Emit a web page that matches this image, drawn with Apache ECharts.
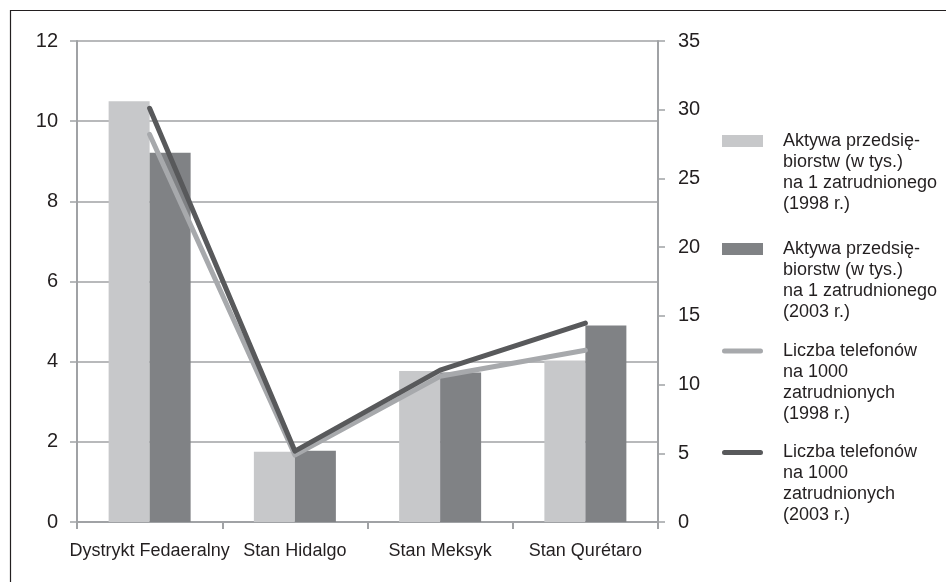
<!DOCTYPE html>
<html>
<head>
<meta charset="utf-8">
<script src="https://cdn.jsdelivr.net/npm/echarts@6/dist/echarts.min.js"></script>
<style>
  html, body { margin: 0; padding: 0; background: #ffffff; }
  #chart { width: 946px; height: 582px; }
</style>
</head>
<body>
<div id="chart"></div>
<script>
// Regions
const categories = ['Dystrykt Fedaeralny', 'Stan Hidalgo', 'Stan Meksyk', 'Stan Qurétaro'];

// Enterprise assets (thousands) per employee — left axis
const assets1998 = [10.5, 1.75, 3.77, 4.03];
const assets2003 = [9.21, 1.78, 3.73, 4.9];

// Telephones per 1000 employees — right axis
const phones1998 = [28.2, 4.87, 10.6, 12.5];
const phones2003 = [30.1, 5.16, 11.05, 14.48];

// Axis ticks
const leftTicks = { min: 0, max: 12, step: 2 };
const rightTicks = { min: 0, max: 35, step: 5 };

const seriesNames = [
  'Aktywa przedsię-\nbiorstw (w tys.)\nna 1 zatrudnionego\n(1998 r.)',
  'Aktywa przedsię-\nbiorstw (w tys.)\nna 1 zatrudnionego\n(2003 r.)',
  'Liczba telefonów\nna 1000\nzatrudnionych\n(1998 r.)',
  'Liczba telefonów\nna 1000\nzatrudnionych\n(2003 r.)'
];

const COL_BAR_LIGHT = '#c7c8ca';
const COL_BAR_DARK = '#808285';
const COL_LINE_LIGHT = '#a7a9ac';
const COL_LINE_DARK = '#58595b';
const AXIS_GRAY = '#a0a2a5';
const TEXT = '#231f20';
const FONT = '"Liberation Sans", Arial, sans-serif';

const LEGEND_FONT = 18;
const LINE_H = 21;
const SWATCH_W = 41;

// Swatch path whose box is stretched downward by a zero-area point, so that the
// middle-aligned text block puts its first line beside the visible swatch.
function swatchIcon(shapePath, shapeH, lines) {
  const blockH = lines * LINE_H;
  const boxH = shapeH / 2 - LINE_H / 2 + blockH / 2;
  return { icon: 'path://' + shapePath + ' M0,' + (2 * boxH) + ' L0,' + (2 * boxH) + ' Z', boxH: 2 * boxH };
}

const RECT_PATH = 'M0,0 L41,0 L41,12 L0,12 Z';
const PILL_PATH = 'M2.5,0 L38.5,0 A2.5,2.5 0 0 1 38.5,5 L2.5,5 A2.5,2.5 0 0 1 2.5,0 Z';

// One legend block per series; swatchCenter is the vertical centre of the swatch
function legendBlock(name, swatchCenter, shapePath, shapeH) {
  const lines = name.split('\n').length;
  const sw = swatchIcon(shapePath, shapeH, lines);
  const textTop = shapeH / 2 - LINE_H / 2;
  return {
    data: [name],
    left: 722,
    top: swatchCenter - shapeH / 2 + Math.min(0, textTop),
    orient: 'vertical',
    padding: 0,
    selectedMode: false,
    icon: sw.icon,
    itemWidth: SWATCH_W,
    itemHeight: sw.boxH,
    textStyle: {
      color: TEXT,
      fontFamily: FONT,
      fontSize: LEGEND_FONT,
      lineHeight: LINE_H,
      padding: [0, 0, 0, 15]
    }
  };
}

const chart = echarts.init(document.getElementById('chart'), null, { renderer: 'canvas' });

chart.setOption({
  animation: false,
  backgroundColor: '#ffffff',
  textStyle: { fontFamily: FONT },
  graphic: [{
    type: 'rect',
    shape: { x: 10.5, y: 10.5, width: 1000, height: 1000 },
    style: { fill: 'none', stroke: '#231f20', lineWidth: 1.2 },
    silent: true
  }],
  legend: [
    legendBlock(seriesNames[0], 141, RECT_PATH, 12),
    legendBlock(seriesNames[1], 249, RECT_PATH, 12),
    legendBlock(seriesNames[2], 351, PILL_PATH, 5),
    legendBlock(seriesNames[3], 452.5, PILL_PATH, 5)
  ],
  grid: {
    left: 77,
    right: 288,
    top: 41,
    bottom: 60,
    outerBoundsMode: 'none',
    containLabel: false
  },
  xAxis: {
    type: 'category',
    data: categories,
    boundaryGap: true,
    axisLine: { lineStyle: { color: AXIS_GRAY, width: 2 } },
    axisTick: { show: true, length: 7, alignWithLabel: false, lineStyle: { color: AXIS_GRAY, width: 2 } },
    axisLabel: { color: TEXT, fontSize: 18, margin: 20, fontFamily: FONT, interval: 0 },
    splitLine: { show: false }
  },
  yAxis: [{
    type: 'value',
    min: leftTicks.min,
    max: leftTicks.max,
    interval: leftTicks.step,
    axisLine: { show: true, lineStyle: { color: AXIS_GRAY, width: 2 } },
    axisTick: { show: true, length: 7, lineStyle: { color: AXIS_GRAY, width: 1.5 } },
    axisLabel: { color: TEXT, fontSize: 20, margin: 19, fontFamily: FONT },
    splitLine: { show: true, lineStyle: { color: AXIS_GRAY, width: 1.5 } }
  }, {
    type: 'value',
    position: 'right',
    min: rightTicks.min,
    max: rightTicks.max,
    interval: rightTicks.step,
    axisLine: { show: true, lineStyle: { color: AXIS_GRAY, width: 2 } },
    axisTick: { show: true, length: 7, lineStyle: { color: AXIS_GRAY, width: 1.5 } },
    axisLabel: { color: TEXT, fontSize: 20, margin: 20, fontFamily: FONT },
    splitLine: { show: false }
  }],
  series: [{
    name: seriesNames[0],
    type: 'bar',
    data: assets1998,
    barWidth: 41,
    barGap: '0%',
    itemStyle: { color: COL_BAR_LIGHT }
  }, {
    name: seriesNames[1],
    type: 'bar',
    data: assets2003,
    barWidth: 41,
    barGap: '0%',
    itemStyle: { color: COL_BAR_DARK }
  }, {
    name: seriesNames[2],
    type: 'line',
    yAxisIndex: 1,
    data: phones1998,
    symbol: 'none',
    z: 3,
    itemStyle: { color: COL_LINE_LIGHT },
    lineStyle: { color: COL_LINE_LIGHT, width: 5, cap: 'round', join: 'round' }
  }, {
    name: seriesNames[3],
    type: 'line',
    yAxisIndex: 1,
    data: phones2003,
    symbol: 'none',
    z: 4,
    itemStyle: { color: COL_LINE_DARK },
    lineStyle: { color: COL_LINE_DARK, width: 5, cap: 'round', join: 'round' }
  }]
});
</script>
</body>
</html>
